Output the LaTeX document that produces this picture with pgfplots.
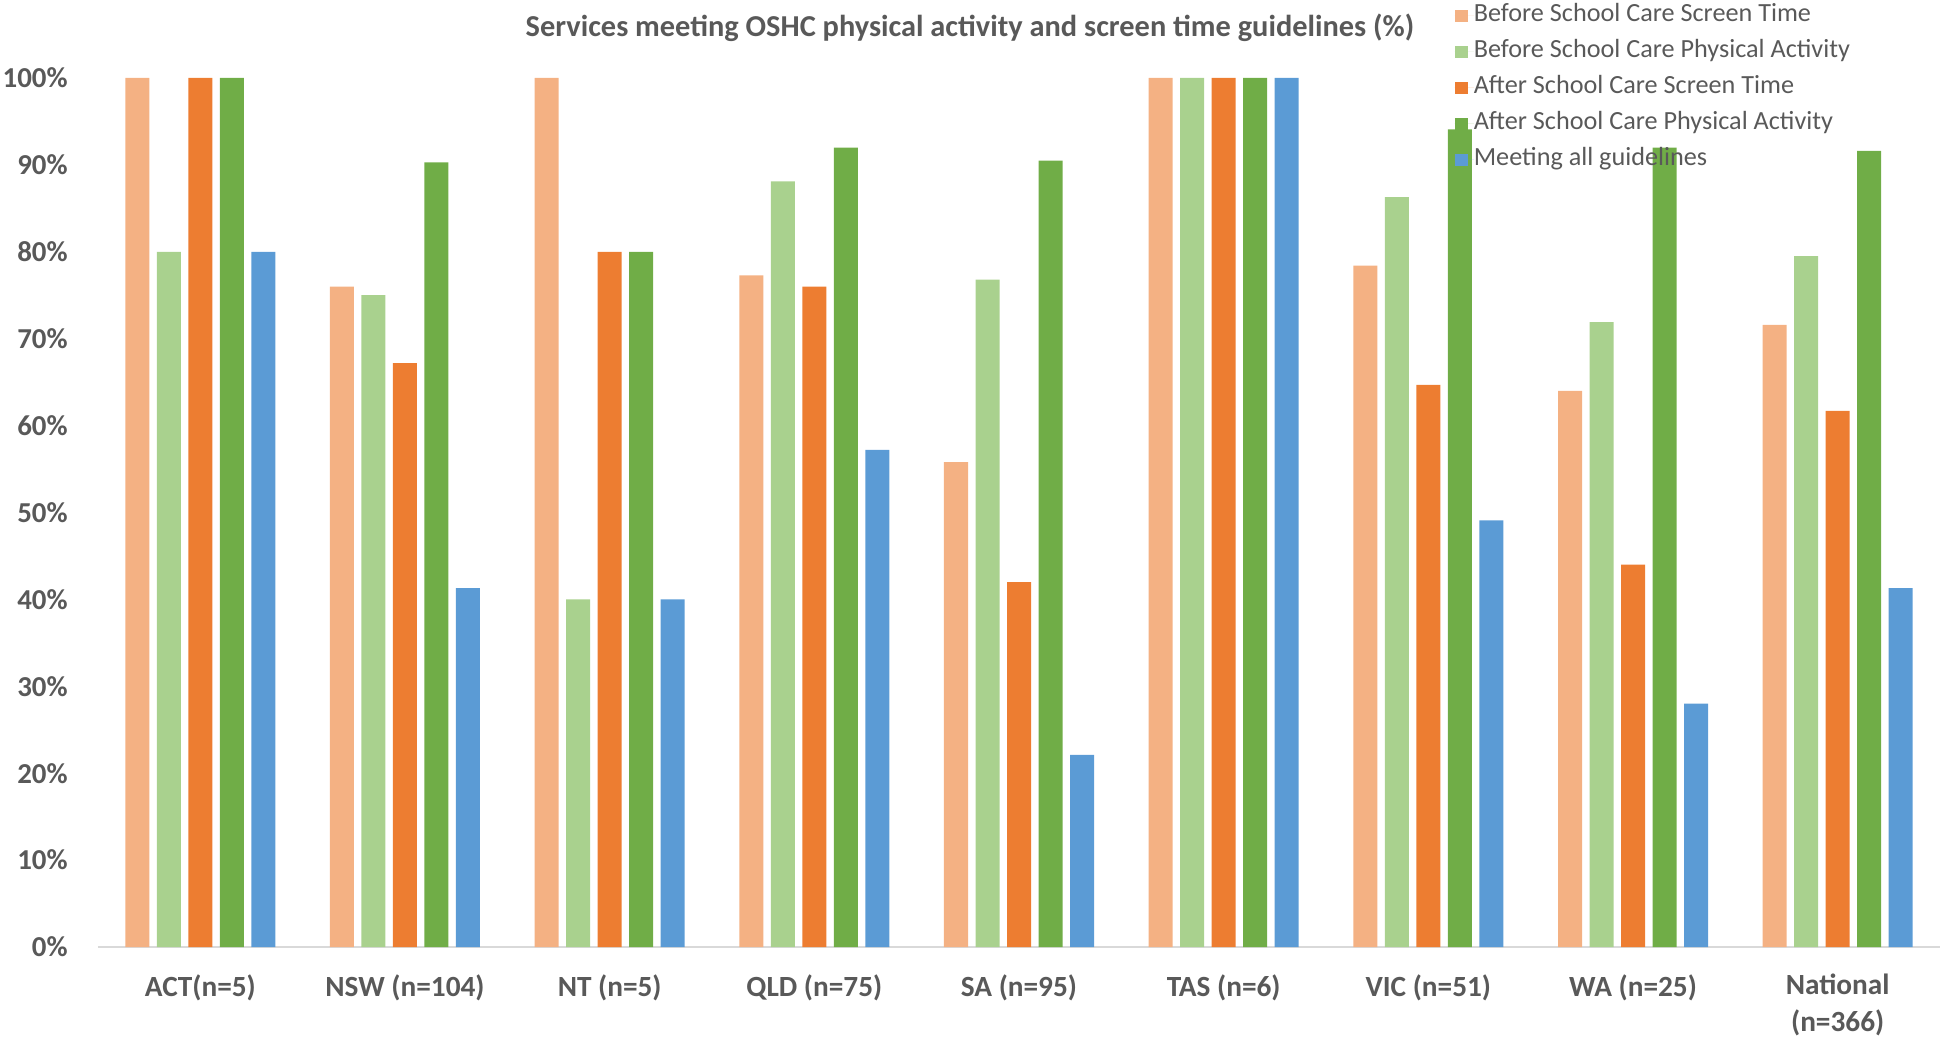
\documentclass[border=0pt]{standalone}
\usepackage{fontspec}
\setmainfont{Carlito}
\usepackage{pgfplots}
\pgfplotsset{compat=1.18}
\definecolor{bsst}{HTML}{F4B183}
\definecolor{bspa}{HTML}{A9D18E}
\definecolor{asst}{HTML}{ED7D31}
\definecolor{aspa}{HTML}{70AD47}
\definecolor{allg}{HTML}{5B9BD5}
\definecolor{txt}{HTML}{595959}
\definecolor{axl}{HTML}{D9D9D9}
\begin{document}
\begin{tikzpicture}
\path[use as bounding box] (-49bp,-48bp) rectangle (923bp,473.5bp);
\begin{axis}[
  at={(0,0)}, anchor=south west,
  scale only axis, width=921bp, height=434.5bp,
  xmin=-0.5, xmax=8.5, ymin=0, ymax=100,
  ybar=3.75bp, bar width=12bp,
  axis x line*=bottom, axis y line*=left,
  x axis line style={draw=axl, line width=1.2bp},
  y axis line style={draw=none},
  tick style={draw=none}, major tick length=0pt,
  /pgf/number format/assume math mode=true,
  xtick={0,...,8},
  xticklabels={ACT(n=5), NSW (n=104), NT (n=5), QLD (n=75), SA (n=95), TAS (n=6), VIC (n=51), WA (n=25), {National\\(n=366)}},
  xticklabel style={font=\bfseries\fontsize{14.7}{18.5}\selectfont, text=txt, align=center, anchor=north, inner sep=0pt, yshift=-13.5bp},
  ytick={0,10,...,100},
  yticklabel={\pgfmathprintnumber{\tick}\%},
  yticklabel style={font=\bfseries\fontsize{14.5}{17}\selectfont, text=txt, anchor=east, inner sep=0pt, xshift=-15bp},
  title={Services meeting OSHC physical activity and screen time guidelines (\%)},
  title style={font=\bfseries\fontsize{15.25}{18}\selectfont, text=txt, at={(0.4734,1)}, anchor=center, yshift=19.3bp, inner sep=0pt},
  legend style={draw=none, fill=none, at={(0.7378,1)}, anchor=north west, yshift=40bp, xshift=-1.2bp,
    font=\fontsize{13.15}{15}\selectfont, text=txt, inner sep=0pt, outer sep=0pt, row sep=0pt,
    nodes={inner sep=0pt, text height=12bp, text depth=6bp}},
  legend cell align=left,
  legend image code/.code={\fill[#1] (0bp,-2.8bp) rectangle (6.5bp,2.8bp); \path (0bp,0bp) -- (9.6bp,0bp);},
]
\addplot[fill=bsst, draw=none] coordinates {(0,100) (1,76) (2,100) (3,77.3) (4,55.8) (5,100) (6,78.4) (7,64) (8,71.6)};
\addplot[fill=bspa, draw=none] coordinates {(0,80) (1,75) (2,40) (3,88.1) (4,76.8) (5,100) (6,86.3) (7,71.9) (8,79.5)};
\addplot[fill=asst, draw=none] coordinates {(0,100) (1,67.2) (2,80) (3,76) (4,42) (5,100) (6,64.7) (7,44) (8,61.7)};
\addplot[fill=aspa, draw=none] coordinates {(0,100) (1,90.3) (2,80) (3,92) (4,90.5) (5,100) (6,94.1) (7,92) (8,91.6)};
\addplot[fill=allg, draw=none] coordinates {(0,80) (1,41.3) (2,40) (3,57.2) (4,22.1) (5,100) (6,49.1) (7,28) (8,41.3)};
\legend{Before School Care Screen Time, Before School Care Physical Activity, After School Care Screen Time, After School Care Physical Activity, Meeting all guidelines}
\end{axis}
\end{tikzpicture}
\end{document}
